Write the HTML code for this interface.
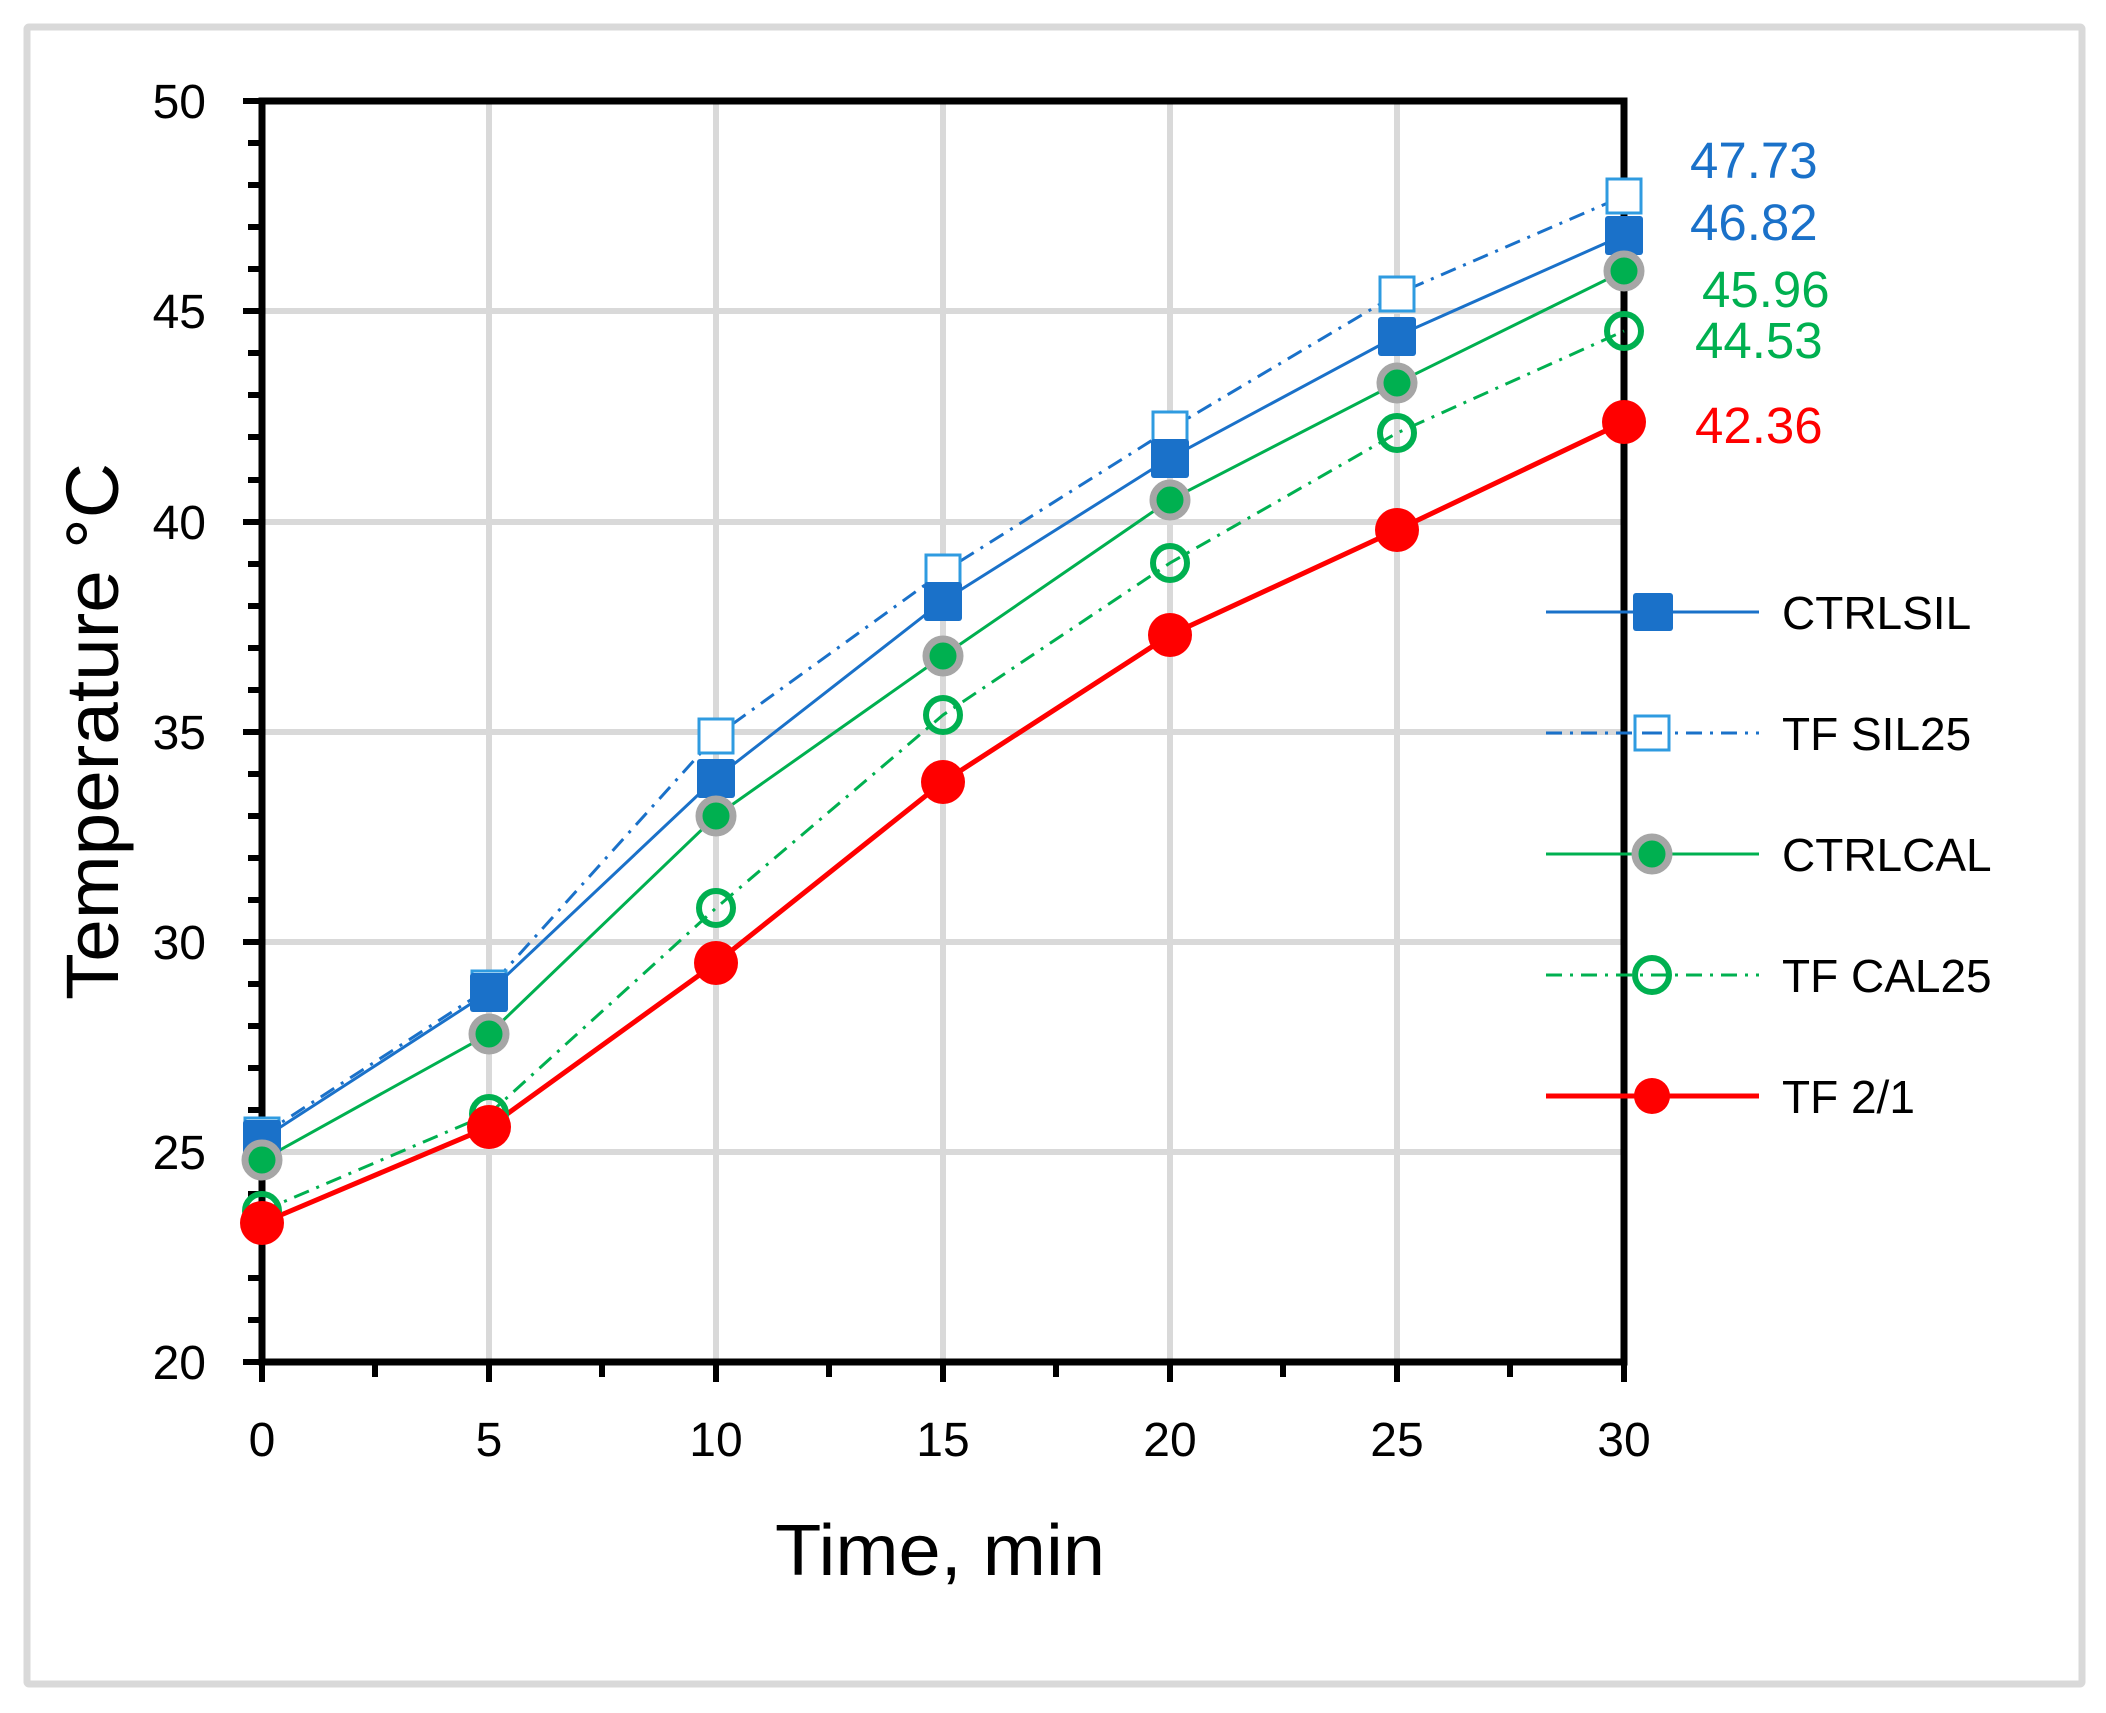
<!DOCTYPE html>
<html><head><meta charset="utf-8"><style>
html,body{margin:0;padding:0;background:#fff;}
svg{display:block;}
text{font-family:"Liberation Sans",sans-serif;}
</style></head><body>
<svg width="2106" height="1713" viewBox="0 0 2106 1713" xmlns="http://www.w3.org/2000/svg">
<rect x="0" y="0" width="2106" height="1713" fill="#fff"/>
<rect x="27" y="27" width="2055" height="1657" fill="none" stroke="#d9d9d9" stroke-width="7" rx="2"/>
<g stroke="#d9d9d9" stroke-width="6">
<line x1="262" y1="1152" x2="1624" y2="1152"/>
<line x1="262" y1="942" x2="1624" y2="942"/>
<line x1="262" y1="732" x2="1624" y2="732"/>
<line x1="262" y1="522" x2="1624" y2="522"/>
<line x1="262" y1="311" x2="1624" y2="311"/>
<line x1="489" y1="101" x2="489" y2="1362"/>
<line x1="716" y1="101" x2="716" y2="1362"/>
<line x1="943" y1="101" x2="943" y2="1362"/>
<line x1="1170" y1="101" x2="1170" y2="1362"/>
<line x1="1397" y1="101" x2="1397" y2="1362"/>
</g>
<g stroke="#000" stroke-width="7" fill="none">
<rect x="262" y="101" width="1362" height="1261"/>
</g>
<g stroke="#000" stroke-width="6">
<line x1="243" y1="101" x2="262" y2="101"/><line x1="243" y1="311" x2="262" y2="311"/>
<line x1="243" y1="522" x2="262" y2="522"/><line x1="243" y1="732" x2="262" y2="732"/>
<line x1="243" y1="942" x2="262" y2="942"/><line x1="243" y1="1152" x2="262" y2="1152"/>
<line x1="243" y1="1362" x2="262" y2="1362"/>
<line x1="248" y1="143" x2="262" y2="143"/><line x1="248" y1="185" x2="262" y2="185"/><line x1="248" y1="227" x2="262" y2="227"/><line x1="248" y1="269" x2="262" y2="269"/>
<line x1="248" y1="353" x2="262" y2="353"/><line x1="248" y1="395" x2="262" y2="395"/><line x1="248" y1="437" x2="262" y2="437"/><line x1="248" y1="480" x2="262" y2="480"/>
<line x1="248" y1="564" x2="262" y2="564"/><line x1="248" y1="606" x2="262" y2="606"/><line x1="248" y1="648" x2="262" y2="648"/><line x1="248" y1="690" x2="262" y2="690"/>
<line x1="248" y1="774" x2="262" y2="774"/><line x1="248" y1="816" x2="262" y2="816"/><line x1="248" y1="858" x2="262" y2="858"/><line x1="248" y1="900" x2="262" y2="900"/>
<line x1="248" y1="984" x2="262" y2="984"/><line x1="248" y1="1026" x2="262" y2="1026"/><line x1="248" y1="1068" x2="262" y2="1068"/><line x1="248" y1="1110" x2="262" y2="1110"/>
<line x1="248" y1="1194" x2="262" y2="1194"/><line x1="248" y1="1236" x2="262" y2="1236"/><line x1="248" y1="1278" x2="262" y2="1278"/><line x1="248" y1="1320" x2="262" y2="1320"/>
<line x1="262" y1="1362" x2="262" y2="1382"/><line x1="489" y1="1362" x2="489" y2="1382"/><line x1="716" y1="1362" x2="716" y2="1382"/>
<line x1="943" y1="1362" x2="943" y2="1382"/><line x1="1170" y1="1362" x2="1170" y2="1382"/><line x1="1397" y1="1362" x2="1397" y2="1382"/><line x1="1624" y1="1362" x2="1624" y2="1382"/>
<line x1="375" y1="1362" x2="375" y2="1377"/><line x1="602" y1="1362" x2="602" y2="1377"/><line x1="829" y1="1362" x2="829" y2="1377"/>
<line x1="1056" y1="1362" x2="1056" y2="1377"/><line x1="1283" y1="1362" x2="1283" y2="1377"/><line x1="1510" y1="1362" x2="1510" y2="1377"/>
</g>
<g font-size="48" fill="#000" text-anchor="end">
<text x="206" y="118">50</text><text x="206" y="328">45</text><text x="206" y="539">40</text>
<text x="206" y="749">35</text><text x="206" y="959">30</text><text x="206" y="1169">25</text><text x="206" y="1379">20</text>
</g>
<g font-size="48" fill="#000" text-anchor="middle">
<text x="262" y="1456">0</text><text x="489" y="1456">5</text><text x="716" y="1456">10</text><text x="943" y="1456">15</text>
<text x="1170" y="1456">20</text><text x="1397" y="1456">25</text><text x="1624" y="1456">30</text>
</g>
<text x="775" y="1575" font-size="72" textLength="330" lengthAdjust="spacingAndGlyphs">Time, min</text>
<text transform="translate(118,1000) rotate(-90)" font-size="74" textLength="537" lengthAdjust="spacingAndGlyphs">Temperature °C</text>
<polyline fill="none" stroke="#1a71c9" stroke-width="3" stroke-dasharray="16 8 3 8" points="262,1135 489,988 716,736 943,572 1170,429 1397,294 1624,196"/>
<polyline fill="none" stroke="#1a71c9" stroke-width="3" points="262,1139 489,992 716,778 943,601 1170,458 1397,336 1624,235"/>
<polyline fill="none" stroke="#00b050" stroke-width="3" points="262,1160 489,1034 716,816 943,656 1170,500 1397,383 1624,271"/>
<polyline fill="none" stroke="#00b050" stroke-width="3" stroke-dasharray="16 8 3 8" points="262,1211 489,1114 716,908 943,715 1170,563 1397,433 1624,331"/>
<polyline fill="none" stroke="#ff0000" stroke-width="5" points="262,1223 489,1127 716,963 943,782 1170,635 1397,530 1624,422"/>
<g fill="#fff" stroke="#2f9be0" stroke-width="3">
<rect x="245" y="1118" width="34" height="34"/><rect x="472" y="971" width="34" height="34"/><rect x="699" y="719" width="34" height="34"/>
<rect x="926" y="555" width="34" height="34"/><rect x="1153" y="412" width="34" height="34"/><rect x="1380" y="277" width="34" height="34"/><rect x="1607" y="179" width="34" height="34"/>
</g>
<g fill="#1a71c9">
<rect x="243" y="1120" width="38" height="39" rx="3"/><rect x="470" y="973" width="38" height="39" rx="3"/><rect x="697" y="759" width="38" height="39" rx="3"/>
<rect x="924" y="582" width="38" height="39" rx="3"/><rect x="1151" y="439" width="38" height="39" rx="3"/><rect x="1378" y="317" width="38" height="39" rx="3"/><rect x="1605" y="216" width="38" height="39" rx="3"/>
</g>
<g fill="#00b050" stroke="#a6a6a6" stroke-width="7">
<circle cx="262" cy="1160" r="17"/><circle cx="489" cy="1034" r="17"/><circle cx="716" cy="816" r="17"/><circle cx="943" cy="656" r="17"/>
<circle cx="1170" cy="500" r="17"/><circle cx="1397" cy="383" r="17"/><circle cx="1624" cy="271" r="17"/>
</g>
<g fill="none" stroke="#00b050" stroke-width="6">
<circle cx="262" cy="1211" r="17"/><circle cx="489" cy="1114" r="17"/><circle cx="716" cy="908" r="17"/><circle cx="943" cy="715" r="17"/>
<circle cx="1170" cy="563" r="17"/><circle cx="1397" cy="433" r="17"/><circle cx="1624" cy="331" r="17"/>
</g>
<g fill="#ff0000">
<circle cx="262" cy="1223" r="22"/><circle cx="489" cy="1127" r="22"/><circle cx="716" cy="963" r="22"/><circle cx="943" cy="782" r="22"/>
<circle cx="1170" cy="635" r="22"/><circle cx="1397" cy="530" r="22"/><circle cx="1624" cy="422" r="22"/>
</g>
<g font-size="51">
<text x="1690" y="178" fill="#1a71c9">47.73</text>
<text x="1690" y="240" fill="#1a71c9">46.82</text>
<text x="1702" y="307" fill="#00b050">45.96</text>
<text x="1695" y="358" fill="#00b050">44.53</text>
<text x="1695" y="443" fill="#ff0000">42.36</text>
</g>
<line x1="1546" y1="612" x2="1759" y2="612" stroke="#1a71c9" stroke-width="3"/>
<rect x="1633" y="593" width="40" height="38" rx="3" fill="#1a71c9"/>
<line x1="1546" y1="733" x2="1759" y2="733" stroke="#1a71c9" stroke-width="3" stroke-dasharray="16 8 3 8"/>
<rect x="1635" y="716" width="34" height="34" fill="#fff" stroke="#2f9be0" stroke-width="3"/>
<line x1="1642" y1="733" x2="1662" y2="733" stroke="#1a71c9" stroke-width="3"/>
<line x1="1546" y1="854" x2="1759" y2="854" stroke="#00b050" stroke-width="3"/>
<circle cx="1652" cy="854" r="17" fill="#00b050" stroke="#a6a6a6" stroke-width="7"/>
<line x1="1546" y1="975" x2="1759" y2="975" stroke="#00b050" stroke-width="3" stroke-dasharray="16 8 3 8"/>
<circle cx="1652" cy="975" r="17" fill="none" stroke="#00b050" stroke-width="6"/>
<line x1="1546" y1="1096" x2="1759" y2="1096" stroke="#ff0000" stroke-width="5"/>
<circle cx="1652" cy="1096" r="18" fill="#ff0000"/>
<g font-size="46" fill="#000">
<text x="1782" y="629">CTRLSIL</text>
<text x="1782" y="750">TF SIL25</text>
<text x="1782" y="871">CTRLCAL</text>
<text x="1782" y="992">TF CAL25</text>
<text x="1782" y="1113">TF 2/1</text>
</g>
</svg>
</body></html>
